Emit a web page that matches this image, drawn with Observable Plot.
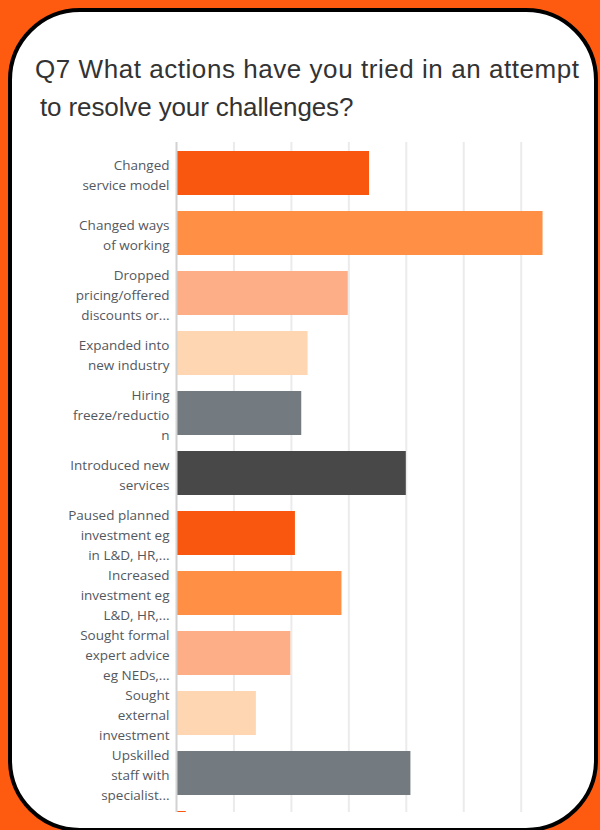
<!DOCTYPE html>
<html>
<head>
<meta charset="utf-8">
<script src="https://cdn.jsdelivr.net/npm/d3@7"></script>
<script src="https://cdn.jsdelivr.net/npm/@observablehq/plot@0.6"></script>
<style>
  html, body { margin: 0; padding: 0; }
  body { width: 600px; height: 830px; background: #fe5a10; position: relative; overflow: hidden; }
  #card { position: absolute; left: 8px; top: 8px; width: 590px; height: 824px; box-sizing: border-box;
          border: 4px solid #000; border-radius: 72px; background: #fff; }
  #title { position: absolute; left: 35px; top: 50px; font-family: "Liberation Sans", Arial, sans-serif;
           font-size: 26px; line-height: 38px; color: #333; white-space: nowrap; }
  #title .l1 { display: block; letter-spacing: 0.55px; }
  #title .l2 { display: block; padding-left: 5px; letter-spacing: -0.12px; }
  #chart { position: absolute; left: 0; top: 142px; width: 600px; height: 670px; overflow: hidden; }
</style>
</head>
<body>
<div id="card"></div>
<div id="title"><span class="l1">Q7 What actions have you tried in an attempt</span><span class="l2">to resolve your challenges?</span></div>
<div id="chart"></div>
<script>
const categories = [
  "Changed service model",
  "Changed ways of working",
  "Dropped pricing/offered discounts or...",
  "Expanded into new industry",
  "Hiring freeze/reduction",
  "Introduced new services",
  "Paused planned investment eg in L&D, HR,...",
  "Increased investment eg L&D, HR,...",
  "Sought formal expert advice eg NEDs,...",
  "Sought external investment",
  "Upskilled staff with specialist...",
  "Other"
];
const labelLines = [
  "Changed\nservice model",
  "Changed ways\nof working",
  "Dropped\npricing/offered\ndiscounts or...",
  "Expanded into\nnew industry",
  "Hiring\nfreeze/reductio\nn",
  "Introduced new\nservices",
  "Paused planned\ninvestment eg\nin L&D, HR,...",
  "Increased\ninvestment eg\nL&D, HR,...",
  "Sought formal\nexpert advice\neg NEDs,...",
  "Sought\nexternal\ninvestment",
  "Upskilled\nstaff with\nspecialist...",
  ""
];
const values = [33.6, 63.8, 29.9, 22.9, 21.8, 40.0, 20.7, 28.8, 19.9, 13.9, 40.8, 1.7];
const barColors = ["#f9560f", "#ff8f45", "#fdae86", "#fed6b2", "#737b81", "#484848",
                   "#f9560f", "#ff8f45", "#fdae86", "#fed6b2", "#737b81", "#f9560f"];
const gridTicks = [10, 20, 30, 40, 50, 60];

const rows = categories.map((c, i) => ({category: c, label: labelLines[i], value: values[i], color: barColors[i]}));

const chart = Plot.plot({
  width: 600,
  height: 721,
  marginLeft: 176,
  marginRight: 0,
  marginTop: 0,
  marginBottom: 0,
  style: {fontFamily: "'Open Sans', sans-serif", background: "transparent", overflow: "visible"},
  x: {domain: [0, 73.8], axis: null},
  y: {domain: categories, paddingInner: 0.27, paddingOuter: 0.116, axis: null},
  color: {type: "identity"},
  marks: [
    Plot.ruleX(gridTicks, {stroke: "#ebebeb", strokeWidth: 2}),
    Plot.barX(rows, {x: "value", y: "category", fill: "color"}),
    Plot.ruleX([0], {stroke: "#d2d2d2", strokeWidth: 2}),
    Plot.text(rows, {x: 0, y: "category", text: "label", textAnchor: "end", dx: -7,
                     lineHeight: 1.5, fontSize: 13.5, fill: "#53585e"})
  ]
});
document.getElementById("chart").appendChild(chart);
</script>
</body>
</html>
